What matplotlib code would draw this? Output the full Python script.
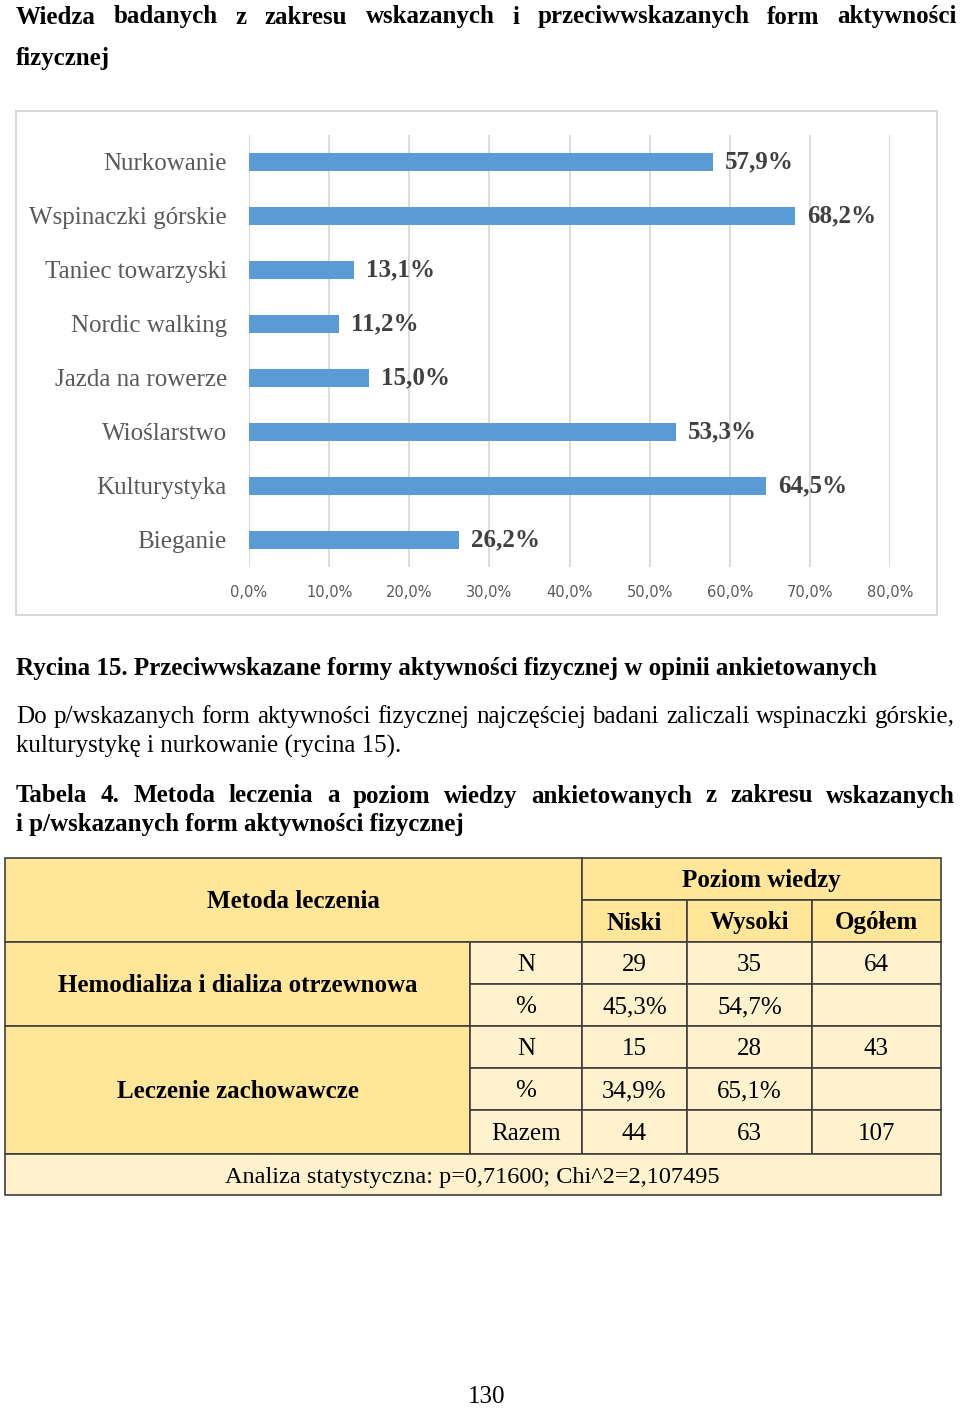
import matplotlib
matplotlib.use("Agg")
import matplotlib.pyplot as plt
from matplotlib.patches import Rectangle

# chart data (rycina 15)
categories = ["Nurkowanie", "Wspinaczki górskie", "Taniec towarzyski", "Nordic walking",
              "Jazda na rowerze", "Wioślarstwo", "Kulturystyka", "Bieganie"]
values = [57.9, 68.2, 13.1, 11.2, 15.0, 53.3, 64.5, 26.2]
x_ticks = [0, 10, 20, 30, 40, 50, 60, 70, 80]

# table data (tabela 4)
methods = ["Hemodializa i dializa otrzewnowa", "Leczenie zachowawcze"]
levels = ["Niski", "Wysoki", "Ogółem"]
n_hemo = [29, 35, 64]
pct_hemo = [45.3, 54.7]
n_zach = [15, 28, 43]
pct_zach = [34.9, 65.1]
n_razem = [44, 63, 107]
stat_text = "Analiza statystyczna: p=0,71600; Chi^2=2,107495"

SERIF = ["Liberation Serif", "DejaVu Serif"]
BAR = "#5B9BD5"
HEAD = "#FFE699"
CELL = "#FFF2CC"
LINE = "#3F3F3F"


def pl(v):
    return f"{v:.1f}%".replace(".", ",")


fig = plt.figure(figsize=(9.6, 14.12), dpi=100)
page = fig.add_axes([0, 0, 1, 1])
page.set_xlim(0, 960)
page.set_ylim(1412, 0)
page.axis("off")
renderer = fig.canvas.get_renderer()


def justify(words, x0, x1, y, **kw):
    # spread words evenly between x0 and x1 (justified line)
    texts = [page.text(0, y, w, va="center", ha="left", **kw) for w in words]
    widths = [t.get_window_extent(renderer).width for t in texts]
    gap = (x1 - x0 - sum(widths)) / (len(words) - 1)
    x = x0
    for t, w in zip(texts, widths):
        t.set_x(x)
        x += w + gap


bold = dict(family=SERIF, fontsize=18, fontweight="bold", color="black")
reg = dict(family=SERIF, fontsize=18, color="black")

justify("Wiedza badanych z zakresu wskazanych i przeciwwskazanych form aktywności".split(),
        16, 957, 17, **bold)
page.text(16, 59, "fizycznej", va="center", **bold)

# chart frame
page.add_patch(Rectangle((16, 111), 921, 504, fill=False, ec="#D9D9D9", lw=1.5))

ax = fig.add_axes([249 / 960, 1 - 567 / 1412, 641 / 960, 432 / 1412])
ypos = list(range(len(categories)))
ax.barh(ypos, values, height=0.34, color=BAR, zorder=3)
ax.set_xlim(0, 80)
ax.set_ylim(len(categories) - 0.5, -0.5)
ax.set_xticks(x_ticks)
ax.set_xticklabels([pl(t) for t in x_ticks], family=["DejaVu Sans"],
                   fontsize=10.5, color="#595959")
ax.set_yticks(ypos)
ax.set_yticklabels(categories, family=SERIF, fontsize=18, color="#595959")
ax.tick_params(axis="x", length=0, pad=13)
ax.tick_params(axis="y", length=0, pad=16)
ax.grid(axis="x", color="#D9D9D9", lw=1.3, zorder=0)
for s in ax.spines.values():
    s.set_visible(False)
for y, v in zip(ypos, values):
    ax.text(v + 1.5, y, pl(v), va="center", ha="left", family=SERIF, fontsize=18,
            fontweight="bold", color="#404040")

page.text(16, 669, "Rycina 15. Przeciwwskazane formy aktywności fizycznej w opinii ankietowanych",
          va="center", **bold)
justify("Do p/wskazanych form aktywności fizycznej najczęściej badani zaliczali wspinaczki górskie,".split(),
        16, 955, 717, **reg)
page.text(16, 746, "kulturystykę i nurkowanie (rycina 15).", va="center", **reg)
justify("Tabela 4. Metoda leczenia a poziom wiedzy ankietowanych z zakresu wskazanych".split(),
        16, 955, 796, **bold)
page.text(16, 825, "i p/wskazanych form aktywności fizycznej", va="center", **bold)

# table
cols = [5, 470, 582, 687, 812, 941]
rows = [858, 900, 942, 984, 1026, 1068, 1110, 1154, 1195]


def cell(x0, y0, x1, y1, color, text="", weight="normal"):
    page.add_patch(Rectangle((x0, y0), x1 - x0, y1 - y0, fc=color, ec=LINE, lw=1.2))
    if text:
        page.text((x0 + x1) / 2, (y0 + y1) / 2 + 2, text, ha="center", va="center",
                  family=SERIF, fontsize=18, fontweight=weight, color="black")


cell(cols[0], rows[0], cols[2], rows[2], HEAD, "Metoda leczenia", "bold")
cell(cols[2], rows[0], cols[5], rows[1], HEAD, "Poziom wiedzy", "bold")
for i, lv in enumerate(levels):
    cell(cols[2 + i], rows[1], cols[3 + i], rows[2], HEAD, lv, "bold")
cell(cols[0], rows[2], cols[1], rows[4], HEAD, methods[0], "bold")
cell(cols[0], rows[4], cols[1], rows[7], HEAD, methods[1], "bold")

body = [
    ["N"] + [str(v) for v in n_hemo],
    ["%"] + [pl(v) for v in pct_hemo] + [""],
    ["N"] + [str(v) for v in n_zach],
    ["%"] + [pl(v) for v in pct_zach] + [""],
    ["Razem"] + [str(v) for v in n_razem],
]
for r, vals in enumerate(body):
    for c, txt in enumerate(vals):
        cell(cols[1 + c], rows[2 + r], cols[2 + c], rows[3 + r], CELL, txt)
cell(cols[0], rows[7], cols[5], rows[8], CELL, "")
page.text(472, 1177, stat_text, ha="center", va="center", family=SERIF, fontsize=17.5,
          color="black")

page.text(487, 1397, "130", ha="center", va="center", **reg)

fig.savefig("out.png", dpi=100, facecolor="white")
